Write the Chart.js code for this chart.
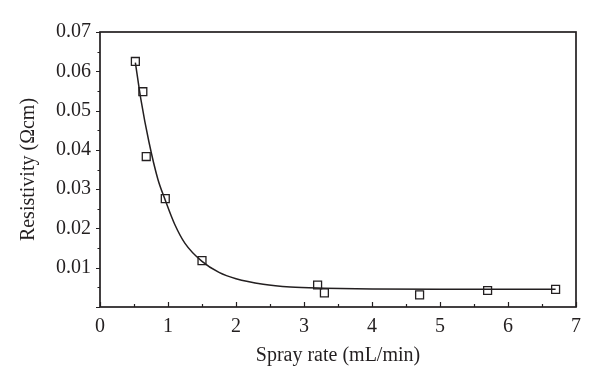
<!DOCTYPE html>
<html>
<head>
<meta charset="utf-8">
<script src="https://cdn.jsdelivr.net/npm/chart.js@4"></script>
<style>
  html, body { margin: 0; padding: 0; background: #fff; }
  #wrap { width: 600px; height: 389px; position: relative; }
</style>
</head>
<body>
<div id="wrap"><canvas id="chart"></canvas></div>
<script>
// measured samples
const sprayRate   = [0.52, 0.63, 0.68, 0.96, 1.50, 3.20, 3.30, 4.70, 5.70, 6.70];
const resistivity = [0.0625, 0.0548, 0.0383, 0.0276, 0.0118, 0.0056, 0.0036, 0.0031, 0.0042, 0.0045];

// fitted curve
const fitX = [0.52, 0.60, 0.72, 0.85, 0.96, 1.10, 1.25, 1.50, 1.75, 2.00, 2.40, 2.80, 3.30, 4.00, 5.00, 6.00, 6.70];
const fitY = [0.0622, 0.0530, 0.0420, 0.0326, 0.0272, 0.0210, 0.0162, 0.0116, 0.0088, 0.0072, 0.0058, 0.0051, 0.0048, 0.0046, 0.0045, 0.0045, 0.0045];

const xTicks = [0, 1, 2, 3, 4, 5, 6, 7];
const yTicks = [0, 0.01, 0.02, 0.03, 0.04, 0.05, 0.06, 0.07];

const INK = '#231f20';
const FONT = "'Liberation Serif', 'DejaVu Serif', serif";

/* frame + tick marks drawn from the scales */
const framePlugin = {
    id: 'frame',
    afterDraw(chart) {
        const { ctx, chartArea: a, scales } = chart;
        const xs = scales.x, ys = scales.y;
        ctx.save();
        ctx.strokeStyle = INK;
        ctx.lineWidth = 1.7;
        ctx.strokeRect(a.left, a.top, a.right - a.left, a.bottom - a.top);
        ctx.lineWidth = 1.2;
        ctx.beginPath();
        // x ticks point inward
        for (let v = 0; v <= 7.0001; v += 0.5) {
            const px = Math.round(xs.getPixelForValue(v)) + 0.5;
            const len = Math.abs(v - Math.round(v)) < 1e-6 ? 5 : 3;
            ctx.moveTo(px, a.bottom);
            ctx.lineTo(px, a.bottom - len);
        }
        // y ticks point outward
        for (let i = 0; i <= 14; i++) {
            const v = i * 0.005;
            const py = Math.round(ys.getPixelForValue(v)) + 0.5;
            const len = i % 2 === 0 ? 4 : 2.5;
            ctx.moveTo(a.left, py);
            ctx.lineTo(a.left - len, py);
        }
        ctx.stroke();
        ctx.restore();
    }
};

function initChart() {
    const canvas = document.getElementById('chart');
    new Chart(canvas.getContext('2d'), {
        type: 'scatter',
        data: {
            datasets: [{
                type: 'line',
                data: fitX.map((x, i) => ({ x, y: fitY[i] })),
                borderColor: INK,
                borderWidth: 1.5,
                pointRadius: 0,
                fill: false,
                cubicInterpolationMode: 'monotone'
            }, {
                data: sprayRate.map((x, i) => ({ x, y: resistivity[i] })),
                pointStyle: 'rect',
                pointRadius: 5.6,
                borderColor: INK,
                borderWidth: 1.3,
                backgroundColor: 'rgba(0,0,0,0)'
            }]
        },
        options: {
            responsive: true,
            maintainAspectRatio: false,
            animation: false,
            layout: { padding: { left: 0, top: 32, right: 24, bottom: 0 } },
            plugins: {
                legend: { display: false },
                tooltip: { enabled: false }
            },
            scales: {
                x: {
                    type: 'linear',
                    min: 0,
                    max: 7,
                    afterBuildTicks: s => { s.ticks = xTicks.map(v => ({ value: v })); },
                    afterFit: s => { s.height = 82; },
                    grid: { display: false, drawTicks: false },
                    border: { display: false },
                    ticks: {
                        color: INK,
                        padding: 8,
                        maxRotation: 0,
                        font: { family: FONT, size: 20 },
                        callback: v => String(v)
                    },
                    title: {
                        display: true,
                        text: 'Spray rate (mL/min)',
                        color: INK,
                        font: { family: FONT, size: 20 },
                        padding: { top: 0, bottom: 21 }
                    }
                },
                y: {
                    type: 'linear',
                    min: 0,
                    max: 0.07,
                    afterBuildTicks: s => { s.ticks = yTicks.map(v => ({ value: v })); },
                    afterFit: s => { s.width = 100; },
                    grid: { display: false, drawTicks: false },
                    border: { display: false },
                    ticks: {
                        color: INK,
                        padding: 9,
                        font: { family: FONT, size: 20 },
                        callback: v => (v === 0 ? '' : v.toFixed(2))
                    },
                    title: {
                        display: true,
                        text: 'Resistivity (Ωcm)',
                        color: INK,
                        font: { family: FONT, size: 20 },
                        padding: { top: 17, bottom: 0 }
                    }
                }
            }
        },
        plugins: [framePlugin]
    });
}

document.addEventListener('DOMContentLoaded', initChart);
</script>
</body>
</html>
